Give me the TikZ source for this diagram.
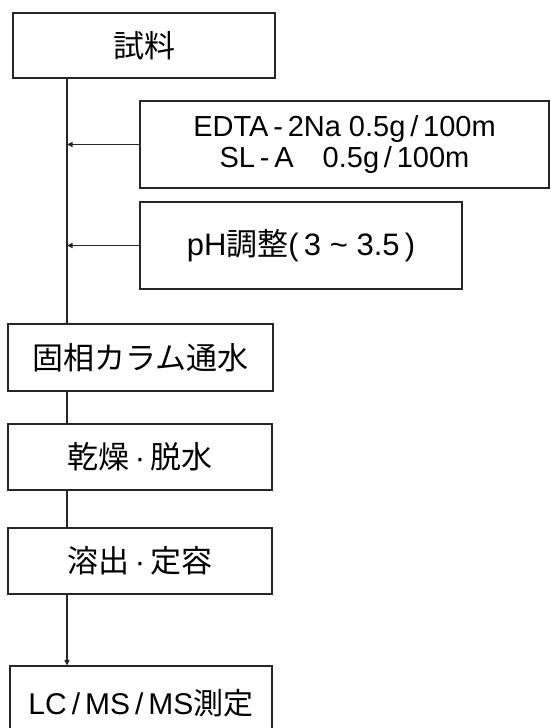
\documentclass[tikz,border=0pt]{standalone}
\usepackage{fontspec}
\setmainfont{Liberation Sans}
\newfontfamily\jp{Noto Sans CJK JP}
\usetikzlibrary{arrows.meta}
\tikzset{
  x=1pt,y=-1pt,
  boxn/.style={draw=black!85, line width=1.2pt, inner sep=0pt, align=center,
    font=\fontsize{31}{33}\selectfont},
  smallbox/.style={boxn, font=\fontsize{29}{32}\selectfont},
  conn/.style={draw=black!85, line width=1.2pt},
  arr/.style={conn, -{Triangle[length=5.5pt,width=5pt]}}
}
\begin{document}
\begin{tikzpicture}
\clip (0,0) rectangle (550,728);
\fill[white] (0,0) rectangle (550,728);
\coordinate (sp) at (67,0);
\node[boxn, minimum width=262pt, minimum height=65pt] (s1) at (144,45.5) {{\jp 試料}};
\node[smallbox, minimum width=409pt, minimum height=87pt] (b1) at (344.5,144.5)
  {EDTA\,-\,2Na 0.5g\,/\,100m\\SL\,-\,A\hspace{1em}0.5g\,/\,100m};
\node[boxn, minimum width=322pt, minimum height=87pt] (b2) at (301,245.5)
  {pH{\jp 調整}(\,3 \textasciitilde\ 3.5\,)};
\node[boxn, minimum width=265pt, minimum height=67pt] (s2) at (140.5,357.5) {{\jp 固相カラム通水}};
\node[boxn, minimum width=264pt, minimum height=66pt] (s3) at (140,457) {{\jp 乾燥}\,·\,{\jp 脱水}};
\node[boxn, minimum width=264pt, minimum height=66pt] (s4) at (140,561) {{\jp 溶出}\,·\,{\jp 定容}};
\node[boxn, minimum width=262pt, minimum height=74pt, font=\fontsize{30}{32}\selectfont] (s5) at (141,703) {LC\,/\,MS\,/\,MS{\jp 測定}};
\draw[conn] (s1.south -| sp) -- (s2.north -| sp);
\draw[arr] (b1.west) -- (b1.west -| sp);
\draw[arr] (b2.west) -- (b2.west -| sp);
\draw[conn] (s2.south -| sp) -- (s3.north -| sp);
\draw[conn] (s3.south -| sp) -- (s4.north -| sp);
\draw[arr] (s4.south -| sp) -- (s5.north -| sp);
\end{tikzpicture}
\end{document}
